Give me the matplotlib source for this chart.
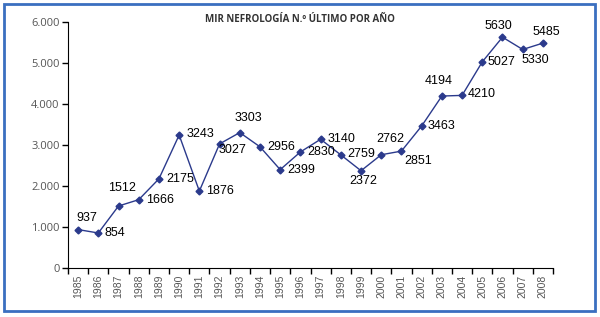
import matplotlib.pyplot as plt
from matplotlib.patches import Rectangle
from matplotlib.ticker import FuncFormatter

years = [str(y) for y in range(1985, 2009)]
values = [937, 854, 1512, 1666, 2175, 3243, 1876, 3027, 3303, 2956, 2399, 2830,
          3140, 2759, 2372, 2762, 2851, 3463, 4194, 4210, 5027, 5630, 5330, 5485]

# label centre offsets in pixels (dx, dy) from each point
offsets = [(9, 12), (17, 0), (3, 18), (21, 0), (21, 0), (21, 1), (21, 0),
           (13, -6), (9, 15), (21, 0), (21, 0), (21, 0), (21, 0), (20, 1),
           (2, -10), (9, 16), (17, -10), (20, 0), (-3, 15), (20, 1), (19, 0),
           (-4, 11), (13, -11), (3, 11)]

fig = plt.figure(figsize=(6, 3.17), dpi=100)
ax = fig.add_axes([68 / 600, 49 / 317, 485 / 600, 246 / 317])

x = list(range(len(years)))
ax.plot(x, values, color='#2b3a8c', lw=1.0, marker='D', ms=3.5,
        markerfacecolor='#2b3a8c', markeredgecolor='#2b3a8c')

for i, v in enumerate(values):
    dx, dy = offsets[i]
    ax.annotate(str(v), (i, v), xytext=(dx, dy), textcoords='offset pixels',
                ha='center', va='center', fontsize=9, family='Liberation Sans',
                color='black')

ax.set_xlim(-0.5, len(years) - 0.5)
ax.set_ylim(0, 6000)
ax.set_yticks(range(0, 6001, 1000))
ax.yaxis.set_major_formatter(FuncFormatter(lambda v, p: f'{int(v):,}'.replace(',', '.')))
ax.set_xticks([i - 0.5 for i in range(len(years) + 1)])
ax.set_xticklabels([])
ax.set_xticks(x, minor=True)
ax.set_xticklabels(years, minor=True, rotation=90)
ax.tick_params(axis='x', which='minor', length=0, pad=5, labelsize=7.5, labelcolor='#555555')
ax.tick_params(axis='x', which='major', length=4, width=1, direction='out')
ax.tick_params(axis='y', length=4, width=1, labelsize=8, labelcolor='#555555', pad=2)
for lab in ax.get_xticklabels(minor=True):
    lab.set_family('Liberation Sans')
for lab in ax.get_yticklabels():
    lab.set_family('Open Sans')

ax.spines['top'].set_visible(False)
ax.spines['right'].set_visible(False)
ax.spines['left'].set_color('black')
ax.spines['bottom'].set_color('black')
ax.patch.set_alpha(0)

fig.text(300 / 600, 1 - 20 / 317, 'MIR NEFROLOGÍA N.º ÚLTIMO POR AÑO', ha='center',
         va='center', fontsize=7, fontweight='bold', family='Open Sans', color='#333333')

fig.patches.append(Rectangle((4 / 600, 6 / 317), 591 / 600, 307 / 317, transform=fig.transFigure,
                             fill=False, edgecolor='#3a6fc0', lw=2))

fig.savefig('out.png', dpi=100)
